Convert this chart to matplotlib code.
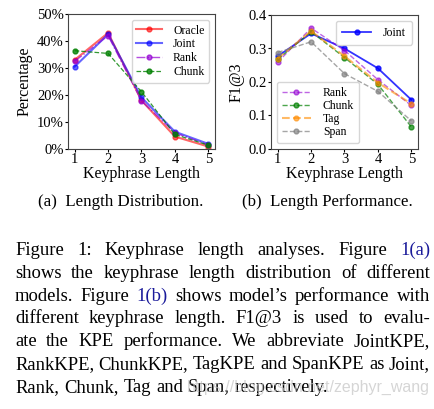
import matplotlib
matplotlib.use("Agg")
import matplotlib.pyplot as plt
import numpy as np

plt.rcParams['font.family'] = ['Liberation Serif', 'DejaVu Serif']
plt.rcParams['mathtext.fontset'] = 'stix'

# data
lengths = [1, 2, 3, 4, 5]

# (a) length distribution, percent
dist_oracle = [33.0, 43.0, 18.0, 4.6, 0.9]
dist_joint = [30.5, 42.5, 19.1, 6.4, 1.9]
dist_rank = [32.5, 42.0, 17.8, 6.0, 1.5]
dist_chunk = [36.4, 35.4, 21.2, 5.4, 1.4]

# (b) length performance, F1@3
f1_joint = [0.277, 0.345, 0.300, 0.241, 0.147]
f1_rank = [0.259, 0.361, 0.294, 0.207, 0.130]
f1_chunk = [0.268, 0.350, 0.273, 0.193, 0.066]
f1_tag = [0.270, 0.352, 0.277, 0.198, 0.135]
f1_span = [0.288, 0.320, 0.225, 0.172, 0.084]

W, H = 435, 409
fig = plt.figure(figsize=(W/100.0, H/100.0), dpi=100)

def px_axes(l, t, r, b):
    return fig.add_axes([l/W, 1-b/H, (r-l)/W, (b-t)/H])

ms = 3.5
ax1 = px_axes(68, 14, 215, 149)
ax1.plot(lengths, dist_oracle, '-o', color='red', alpha=0.6, lw=1.5, ms=ms, label='Oracle')
ax1.plot(lengths, dist_joint, '-o', color='blue', alpha=0.6, lw=1.5, ms=ms, label='Joint')
ax1.plot(lengths, dist_rank, '-.o', color='darkviolet', alpha=0.7, lw=1.0, ms=ms, label='Rank')
ax1.plot(lengths, dist_chunk, '--o', color='green', alpha=0.8, lw=0.9, ms=ms, label='Chunk')
ax1.set_ylim(0, 50)
ax1.set_yticks([0, 10, 20, 30, 40, 50])
ax1.set_yticklabels(['0%', '10%', '20%', '30%', '40%', '50%'])
ax1.set_xticks(lengths)
ax1.set_xlabel('Keyphrase Length', fontsize=11.5, labelpad=0)
ax1.set_ylabel('Percentage', fontsize=11.5, labelpad=3)
ax1.legend(loc='upper right', fontsize=8.5, handlelength=2.2, borderpad=0.4,
           labelspacing=0.15, handletextpad=0.9)

ax2 = px_axes(271, 15, 418, 149)
l_joint, = ax2.plot(lengths, f1_joint, '-o', color='blue', alpha=0.8, lw=1.3, ms=ms, label='Joint')
l_rank, = ax2.plot(lengths, f1_rank, '--o', color='darkviolet', alpha=0.6, lw=1.0, ms=ms, label='Rank')
l_chunk, = ax2.plot(lengths, f1_chunk, '--o', color='green', alpha=0.7, lw=1.0, ms=ms, label='Chunk')
l_tag, = ax2.plot(lengths, f1_tag, '--o', color='darkorange', alpha=0.6, lw=1.5, ms=ms, label='Tag')
l_span, = ax2.plot(lengths, f1_span, '--o', color='gray', alpha=0.7, lw=1.0, ms=ms, label='Span')
ax2.set_ylim(0, 0.4)
ax2.set_yticks([0.0, 0.1, 0.2, 0.3, 0.4])
ax2.set_xticks(lengths)
ax2.set_xlabel('Keyphrase Length', fontsize=11.5, labelpad=0)
ax2.set_ylabel('F1@3', fontsize=11.5, labelpad=3)
leg1 = ax2.legend(handles=[l_joint], loc='upper right', fontsize=8.5, handlelength=2.5,
                  borderpad=0.5, handletextpad=1.0)
ax2.add_artist(leg1)
ax2.legend(handles=[l_rank, l_chunk, l_tag, l_span], loc='lower left', fontsize=8.5,
           handlelength=2.5, borderpad=0.4, labelspacing=0.1, handletextpad=1.0)

for ax in (ax1, ax2):
    ax.tick_params(labelsize=10.5, length=2, pad=1)
    for s in ax.spines.values():
        s.set_color('#444444')

# sub-captions
fig.text(38/W, 1-206/H, '(a)  Length Distribution.', fontsize=12.2, va='baseline')
fig.text(242/W, 1-206/H, '(b)  Length Performance.', fontsize=12.2, va='baseline')

# justified caption
link = '#1a1a9a'
cap_lines = [
    [('Figure', 'k'), ('1:', 'k'), ('Keyphrase', 'k'), ('length', 'k'), ('analyses.', 'k'),
     ('Figure', 'k'), ('1(a)', link)],
    [(w, 'k') for w in 'shows the keyphrase length distribution of different'.split()],
    [('models.', 'k'), ('Figure', 'k'), ('1(b)', link)] +
    [(w, 'k') for w in 'shows model\u2019s performance with'.split()],
    [(w, 'k') for w in 'different keyphrase length. F1@3 is used to evalu-'.split()],
    [(w, 'k') for w in 'ate the KPE performance. We abbreviate JointKPE,'.split()],
    [(w, 'k') for w in 'RankKPE, ChunkKPE, TagKPE and SpanKPE as Joint,'.split()],
    [(w, 'k') for w in 'Rank, Chunk, Tag and Span, respectively.'.split()],
]
x0, x1 = 15, 430
base0, step = 255, 22.8
fs = 13.4
renderer = fig.canvas.get_renderer()
space = fig.text(0, 0, 'a b', fontsize=fs)
sp_w = space.get_window_extent(renderer).width - \
    fig.text(0, 0, 'ab', fontsize=fs).get_window_extent(renderer).width
for t in fig.texts[-2:]:
    t.remove()
for i, line in enumerate(cap_lines):
    y = 1 - (base0 + i*step)/H
    texts = [fig.text(0, y, w, fontsize=fs, color=c, va='baseline') for w, c in line]
    widths = [t.get_window_extent(renderer).width for t in texts]
    if i < len(cap_lines) - 1:
        gap = (x1 - x0 - sum(widths)) / (len(texts) - 1)
    else:
        gap = sp_w * 1.1
    x = x0
    for t, w in zip(texts, widths):
        t.set_x(x/W)
        x += w + gap

# watermark
fig.text(187/W, 1-392/H, 'https://blog.csdn.net/zephyr_wang', fontsize=11.5,
         family='Liberation Sans', color='#c4c4c4', alpha=0.7, va='baseline')

fig.savefig('out.png', dpi=100)
